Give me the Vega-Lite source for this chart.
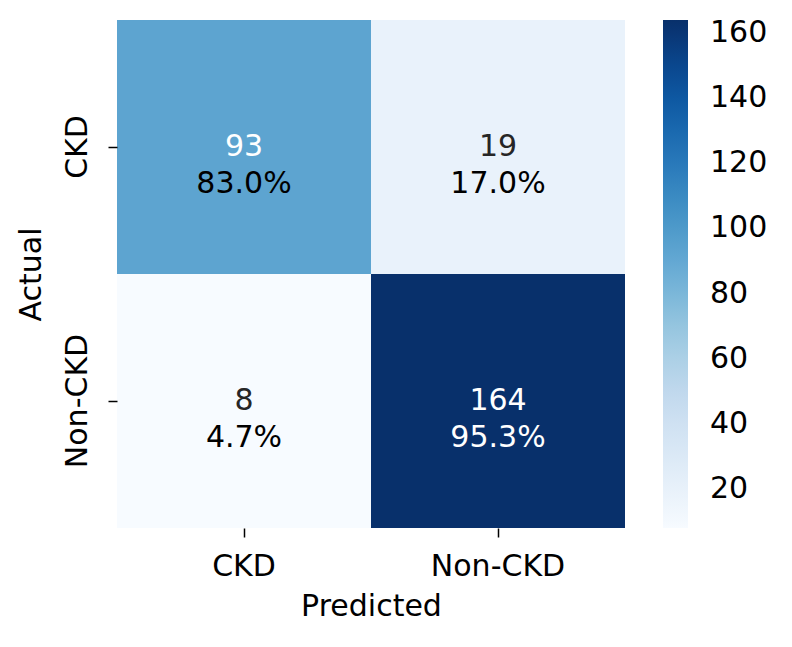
{
  "$schema": "https://vega.github.io/schema/vega-lite/v6.json",
  "autosize": {"type": "none"},
  "padding": {"left": 117, "top": 20, "right": 167, "bottom": 119},
  "width": 508,
  "height": 508,
  "background": "white",
  "config": {
    "view": {"stroke": null},
    "font": "DejaVu Sans",
    "axis": {"labelFont": "DejaVu Sans", "titleFont": "DejaVu Sans", "labelColor": "black", "titleColor": "black", "titleFontWeight": "normal", "domain": false, "tickColor": "black", "tickWidth": 1.5, "tickSize": 9, "labelFontSize": 30, "titleFontSize": 30}
  },
  "data": {
    "values": [
      {"actual": "CKD", "predicted": "CKD", "count": 93, "pct": "83.0%"},
      {"actual": "CKD", "predicted": "Non-CKD", "count": 19, "pct": "17.0%"},
      {"actual": "Non-CKD", "predicted": "CKD", "count": 8, "pct": "4.7%"},
      {"actual": "Non-CKD", "predicted": "Non-CKD", "count": 164, "pct": "95.3%"}
    ]
  },
  "encoding": {
    "x": {"field": "predicted", "type": "nominal", "title": "Predicted", "sort": ["CKD", "Non-CKD"],
      "scale": {"paddingInner": 0, "paddingOuter": 0},
      "axis": {"orient": "bottom", "labelAngle": 0, "labelPadding": 14, "titlePadding": 10}},
    "y": {"field": "actual", "type": "nominal", "title": "Actual", "sort": ["CKD", "Non-CKD"],
      "scale": {"paddingInner": 0, "paddingOuter": 0},
      "axis": {"labelAngle": -90, "labelAlign": "center", "labelBaseline": "bottom", "labelPadding": 16, "titlePadding": 16}}
  },
  "layer": [
    {
      "mark": {"type": "rect"},
      "encoding": {
        "color": {"field": "count", "type": "quantitative",
          "scale": {"domain": [8, 27.5, 47, 66.5, 86, 105.5, 125, 144.5, 164],
            "range": ["#f7fbff", "#deebf7", "#c6dbef", "#9ecae1", "#6baed6", "#4292c6", "#2171b5", "#08519c", "#08306b"]},
          "legend": {"title": null, "orient": "right", "offset": 38, "gradientLength": 508, "gradientThickness": 25,
            "gradientStrokeWidth": 0, "labelFontSize": 30, "labelFont": "DejaVu Sans", "labelColor": "black",
            "labelOffset": 22, "values": [20, 40, 60, 80, 100, 120, 140, 160], "labelOverlap": false}}
      }
    },
    {
      "mark": {"type": "text", "fontSize": 30, "font": "DejaVu Sans", "baseline": "middle", "dy": 0},
      "encoding": {
        "text": {"field": "count", "type": "quantitative"},
        "color": {"condition": {"test": "datum.count > 60", "value": "white"}, "value": "#262626"}
      }
    },
    {
      "mark": {"type": "text", "fontSize": 30, "font": "DejaVu Sans", "baseline": "middle", "dy": 37},
      "encoding": {
        "text": {"field": "pct", "type": "nominal"},
        "color": {"condition": {"test": "datum.count > 100", "value": "white"}, "value": "black"}
      }
    }
  ],
  "resolve": {"scale": {"color": "independent"}}
}
